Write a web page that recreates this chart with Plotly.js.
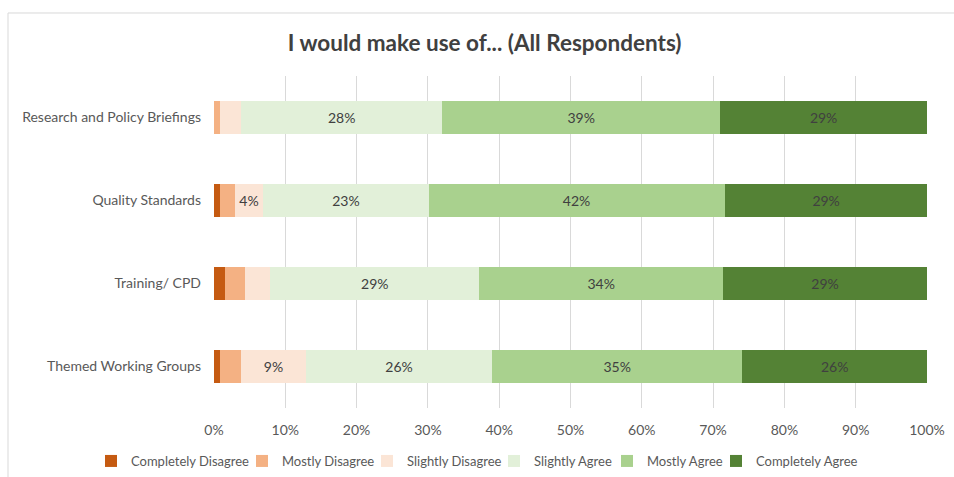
<!DOCTYPE html>
<html>
<head>
<meta charset="utf-8">
<script src="https://cdn.plot.ly/plotly-3.0.1.min.js"></script>
<style>html,body{margin:0;padding:0;background:#fff;}#chart{width:954px;height:477px;}</style>
</head>
<body>
<div id="chart"></div>
<script>
const categories = ["Research and Policy Briefings", "Quality Standards", "Training/ CPD", "Themed Working Groups"];
const seriesNames = ["Completely Disagree", "Mostly Disagree", "Slightly Disagree", "Slightly Agree", "Mostly Agree", "Completely Agree"];
const completelyDisagree = [0, 0.9, 1.6, 0.9];
const mostlyDisagree = [0.9, 2.0, 2.8, 2.9];
const slightlyDisagree = [2.9, 4.0, 3.5, 9.1];
const slightlyAgree = [28.2, 23.2, 29.3, 26.1];
const mostlyAgree = [39.0, 41.5, 34.2, 35.1];
const completelyAgree = [29.0, 28.5, 28.6, 25.9];
const colors = ["#C55A11", "#F4B183", "#FBE5D6", "#E2F0D9", "#A9D18E", "#548235"];
const tickVals = [0, 10, 20, 30, 40, 50, 60, 70, 80, 90, 100];
const tickText = ["0%", "10%", "20%", "30%", "40%", "50%", "60%", "70%", "80%", "90%", "100%"];

const allSeries = [completelyDisagree, mostlyDisagree, slightlyDisagree, slightlyAgree, mostlyAgree, completelyAgree];
const legendIds = ["legend", "legend2", "legend3", "legend4", "legend5", "legend6"];
const legendX = [91, 242, 367, 494, 607, 716];
const font = "Lato, 'Open Sans', sans-serif";
const traces = allSeries.map((vals, i) => ({
  type: "bar",
  orientation: "h",
  name: seriesNames[i],
  legend: legendIds[i],
  y: categories,
  x: vals,
  marker: {color: colors[i], line: {width: 0}},
  text: vals.map(v => v >= 4 ? Math.round(v) + "%" : ""),
  textposition: "inside",
  insidetextanchor: "middle",
  textangle: 0,
  textfont: {family: font, size: 14, color: "#404040"},
  constraintext: "none",
  hoverinfo: "x+name"
}));

const layout = {
  width: 954, height: 477,
  paper_bgcolor: "#fff", plot_bgcolor: "#fff",
  margin: {l: 214, r: 27, t: 76, b: 69},
  barmode: "stack",
  bargap: 0.6,
  title: {text: "<b>I would make use of... (All Respondents)</b>", x: 0.508, xref: "container", xanchor: "center",
          y: (477 - 43) / 477, yref: "container", yanchor: "middle",
          font: {family: font, size: 22.5, color: "#404040"}},
  xaxis: {range: [0, 100], tickvals: tickVals, ticktext: tickText, showgrid: true, gridcolor: "#D9D9D9", gridwidth: 1,
          zeroline: false, showline: false, ticks: "", ticklabelstandoff: 12,
          tickfont: {family: font, size: 14, color: "#595959"}, fixedrange: true},
  yaxis: {autorange: "reversed", showgrid: false, zeroline: false, showline: false, ticks: "", ticklabelstandoff: 12,
          tickfont: {family: font, size: 14, color: "#595959"}},
  showlegend: true,
  shapes: [{type: "rect", xref: "paper", yref: "paper", x0: -0.2889, x1: 1.1, y0: -0.4, y1: 1.1898,
            line: {color: "#D9D9D9", width: 1}, fillcolor: "rgba(0,0,0,0)", layer: "below"}]
};
legendIds.forEach((id, i) => {
  layout[id] = {orientation: "h", xref: "container", yref: "container", x: legendX[i] / 954, xanchor: "left",
                y: (477 - 461) / 477, yanchor: "middle", bgcolor: "rgba(0,0,0,0)",
                font: {family: font, size: 13, color: "#595959"}, itemwidth: 30};
});
Plotly.newPlot("chart", traces, layout, {staticPlot: true, displayModeBar: false});
</script>
</body>
</html>
